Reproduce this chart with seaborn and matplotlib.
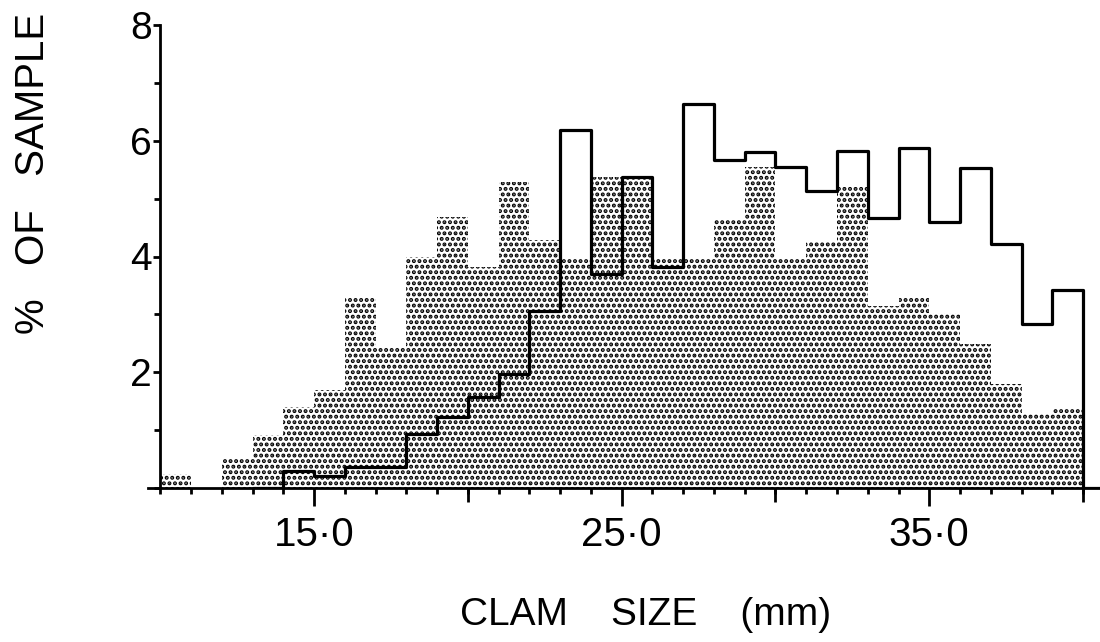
import numpy as np
import matplotlib
matplotlib.use("Agg")
import matplotlib.pyplot as plt
import seaborn as sns

# ---- data (percent of sample per 1 mm size class) ----
stipple_left_edges = list(range(10, 40))          # 10..39
stipple_values = [0.25, 0.0, 0.52, 0.92, 1.40, 1.69, 3.30, 2.42, 4.00, 4.68,
                  3.82, 5.29, 4.28, 3.97, 5.38, 5.35, 3.97, 3.97, 4.63, 5.55,
                  3.97, 4.25, 5.20, 3.15, 3.30, 3.02, 2.48, 1.80, 1.27, 1.38]

line_left_edges = list(range(13, 41))             # 13..40
line_values = [0.0, 0.30, 0.20, 0.37, 0.37, 0.94, 1.22, 1.58, 1.97, 3.05,
               6.18, 3.70, 5.38, 3.82, 6.64, 5.66, 5.80, 5.54, 5.13, 5.82,
               4.66, 5.87, 4.60, 5.53, 4.22, 2.84, 3.42, 0.0]

major_x = [15, 25, 35]
major_x_labels = ["15·0", "25·0", "35·0"]
mid_x = [20, 30, 40]
y_major = [2, 4, 6, 8]
y_labels = ["2", "4", "6", "8"]

sns.set_style("ticks")
plt.rcParams["font.family"] = ["Liberation Sans", "DejaVu Sans"]
plt.rcParams["hatch.linewidth"] = 2.0
for k in ["text.color", "axes.labelcolor", "xtick.color", "ytick.color",
          "axes.edgecolor"]:
    plt.rcParams[k] = "black"

fig = plt.figure(figsize=(11, 6.42), dpi=100)
ax = fig.add_axes([148 / 1100, 1 - 488 / 642, 952 / 1100, 463 / 642])

s_centers = np.array(stipple_left_edges) + 0.5
s_edges = list(stipple_left_edges) + [stipple_left_edges[-1] + 1]
sns.histplot(x=s_centers, weights=stipple_values, bins=s_edges, ax=ax,
             element="bars", fill=True, facecolor="white", edgecolor="black",
             linewidth=0, hatch="...", alpha=1, zorder=1)

l_centers = np.array(line_left_edges) + 0.5
l_edges = list(line_left_edges) + [line_left_edges[-1] + 1]
sns.histplot(x=l_centers, weights=line_values, bins=l_edges, ax=ax,
             element="step", fill=False, color="black", linewidth=2.3, zorder=3)

ax.set_xlim(9.6, 40.55)
ax.set_ylim(0, 8)
for s in ["top", "right"]:
    ax.spines[s].set_visible(False)
ax.spines["left"].set_position(("data", 10))
ax.spines["left"].set_linewidth(2.0)
ax.spines["bottom"].set_linewidth(2.0)
ax.spines["bottom"].set_zorder(4)

ax.set_xticks(major_x)
ax.set_xticklabels(major_x_labels,
                   family=["DejaVu Sans Condensed", "Liberation Sans Narrow",
                           "Liberation Sans"],
                   fontsize=29)
ax.set_xticks(list(range(10, 41)), minor=True)
ax.tick_params(axis="x", which="major", length=13, width=2.0, pad=7, color="black")
ax.tick_params(axis="x", which="minor", length=4.5, width=2.0, color="black")

sec = ax.secondary_xaxis("bottom")
sec.set_xticks(mid_x)
sec.tick_params(axis="x", length=10, width=2.0, labelbottom=False, color="black")
sec.spines["bottom"].set_visible(False)

ax.set_yticks(y_major)
ax.set_yticklabels(y_labels, fontsize=28)
ax.set_yticks(list(range(0, 9)), minor=True)
ax.tick_params(axis="y", which="major", length=5, width=2.0, pad=1, color="black")
ax.tick_params(axis="y", which="minor", length=4, width=2.0, color="black")

ax.set_xlabel("CLAM    SIZE    (mm)", fontsize=28)
ax.xaxis.set_label_coords((646 - 148) / 952, -(597 - 488) / 463)
ax.set_ylabel("%   OF   SAMPLE", fontsize=29)
ax.yaxis.set_label_coords((52 - 148) / 952, (488 - 173) / 463)

fig.savefig("out.png", dpi=100)
